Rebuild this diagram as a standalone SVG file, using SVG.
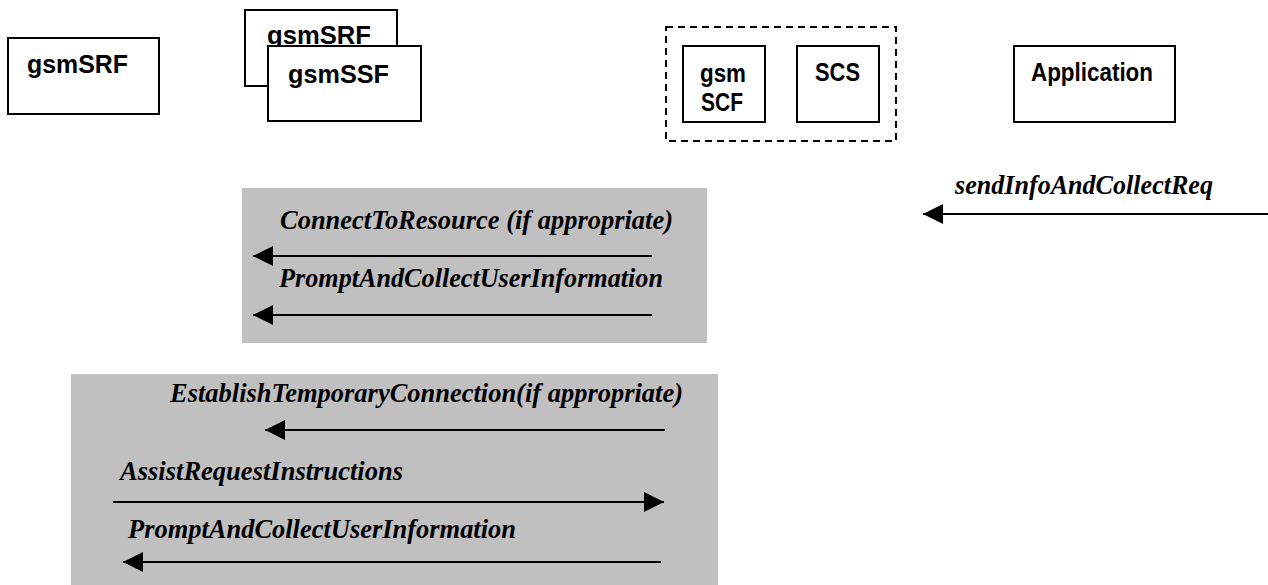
<svg xmlns="http://www.w3.org/2000/svg" width="1268" height="585" viewBox="0 0 1268 585">
<style>
.box{fill:#fff;stroke:#000;stroke-width:2}
.grp{fill:none;stroke:#000;stroke-width:2;stroke-dasharray:7 5}
.shade{fill:#c0c0c0;stroke:none}
.lbl{font-family:"Liberation Sans",Arial,sans-serif;font-weight:bold;font-size:25px;fill:#000}
.msg{font-family:"Liberation Serif","Times New Roman",serif;font-weight:bold;font-style:italic;font-size:27px;fill:#000}
.arr{stroke:#000;stroke-width:2;fill:none;marker-end:url(#ah)}
</style>
<defs>
<marker id="ah" markerUnits="userSpaceOnUse" markerWidth="20" markerHeight="20" refX="20" refY="10" orient="auto">
<path d="M0,0 L20,10 L0,20 z" fill="#000"/>
</marker>
</defs>
<rect class="shade" x="242" y="188" width="465" height="155"/>
<rect class="shade" x="71" y="374" width="647" height="211"/>
<g id="gsmSRF1">
<rect class="box" x="8" y="38" width="151" height="76"/>
<text class="lbl" x="27" y="73" textLength="101" lengthAdjust="spacingAndGlyphs">gsmSRF</text>
</g>
<g id="gsmSRF2">
<rect class="box" x="245" y="10" width="152" height="76"/>
<text class="lbl" x="267" y="44" textLength="104" lengthAdjust="spacingAndGlyphs">gsmSRF</text>
</g>
<g id="gsmSSF">
<rect class="box" x="268" y="46" width="153" height="75"/>
<text class="lbl" x="288" y="83" textLength="101" lengthAdjust="spacingAndGlyphs">gsmSSF</text>
</g>
<g id="scsGroup">
<rect class="grp" x="666" y="27" width="230" height="114"/>
</g>
<g id="gsmSCF">
<rect class="box" x="683" y="46" width="82" height="76"/>
<text class="lbl" x="700" y="82" textLength="46" lengthAdjust="spacingAndGlyphs">gsm</text>
<text class="lbl" x="701" y="111" textLength="42" lengthAdjust="spacingAndGlyphs">SCF</text>
</g>
<g id="SCS">
<rect class="box" x="797" y="46" width="82" height="76"/>
<text class="lbl" x="815" y="81" textLength="45" lengthAdjust="spacingAndGlyphs">SCS</text>
</g>
<g id="Application">
<rect class="box" x="1014" y="46" width="161" height="76"/>
<text class="lbl" x="1031" y="81" textLength="122" lengthAdjust="spacingAndGlyphs">Application</text>
</g>
<g id="connectors">
<line class="arr" x1="1268" y1="214" x2="923" y2="214"/>
<text class="msg" x="955" y="194" textLength="258" lengthAdjust="spacingAndGlyphs">sendInfoAndCollectReq</text>
<line class="arr" x1="652" y1="256" x2="253" y2="256"/>
<text class="msg" x="280" y="229" textLength="393" lengthAdjust="spacingAndGlyphs">ConnectToResource (if appropriate)</text>
<line class="arr" x1="652" y1="315" x2="253" y2="315"/>
<text class="msg" x="279" y="287" textLength="384" lengthAdjust="spacingAndGlyphs">PromptAndCollectUserInformation</text>
<line class="arr" x1="665" y1="430" x2="265" y2="430"/>
<text class="msg" x="170" y="402" textLength="513" lengthAdjust="spacingAndGlyphs">EstablishTemporaryConnection(if appropriate)</text>
<line class="arr" x1="113" y1="502" x2="664" y2="502"/>
<text class="msg" x="120" y="480" textLength="283" lengthAdjust="spacingAndGlyphs">AssistRequestInstructions</text>
<line class="arr" x1="661" y1="562" x2="123" y2="562"/>
<text class="msg" x="128" y="538" textLength="388" lengthAdjust="spacingAndGlyphs">PromptAndCollectUserInformation</text>
</g>
</svg>
